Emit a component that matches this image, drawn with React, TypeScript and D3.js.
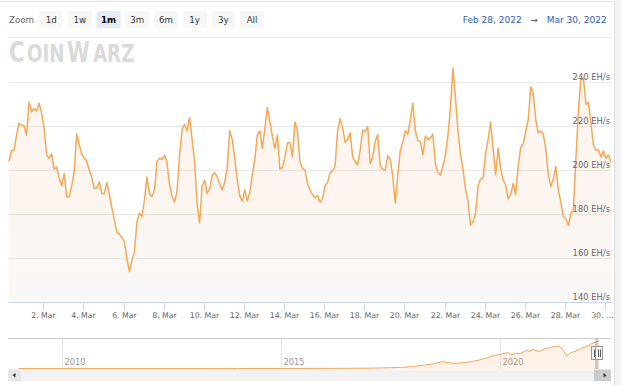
import React from 'react';
import * as d3 from 'd3';

const W = 621;
const H = 385;

// ---- data ----
const START = Date.UTC(2022, 1, 28, 7);
const STEP_HOURS = 3;
const hashrate: number[] = [
  204, 209, 209, 216, 221.5, 220.5, 220.3, 216, 231, 226.5, 228, 227, 230.5, 226, 219, 207, 205.5, 207.5, 200.5, 201.5,
  196.4, 193, 198.6, 188, 188, 193, 199.4, 216.5, 211.5, 207.5, 205.5, 204.1, 200, 196.7, 191.8, 191.8, 194.8, 189.5, 189.5, 194.4,
  189, 183, 177.5, 172, 171, 169.5, 167.5, 160, 154,
  159, 163, 176.5, 180.5, 179, 186.5, 197, 189.5, 188, 191, 204, 205.5, 205, 206.8, 203.5, 193.5, 188.2, 185.5, 190.5, 207,
  218.5, 221, 218, 224, 214, 204, 184.5, 176, 193, 195.5, 189.5, 191.5, 197.5, 199, 197, 194, 191, 194.5, 201, 218,
  214, 205.5, 195.6, 188.4, 186, 191.1, 186,
  190, 197.9, 205, 216.1, 218, 210, 219, 228.5, 222, 215.5, 210, 216, 200.5, 201.3, 206, 212.5, 212.5, 206, 222, 218,
  204, 200.8, 200.2, 194, 191.1, 189, 187.5, 188.6, 185.5, 187, 193, 194.5, 199, 199.7, 202, 218, 223.5, 219.5, 212.8, 214,
  217, 206.2, 204, 202.4, 209, 218.3, 217.5, 220,
  203, 206.2, 213, 216.1, 202, 200.6, 200, 206.7, 205, 197.1, 185, 198, 209, 212.8, 218, 216.5, 223, 230.5, 218, 213.5,
  213, 207, 215.6, 214, 214.5, 216.5, 203, 199, 197.9, 201.9, 207, 216, 228.5, 246.5, 233, 218, 207.5, 200.5, 191.5, 186,
  175, 176.5, 180.5, 193, 196, 196.5, 207.5, 214,
  222, 210, 198, 210, 201, 195.5, 193.5, 187, 189, 194, 189, 202, 210.3, 212, 217.6, 223, 238, 235, 223, 217,
  217.9, 216.5, 209.7, 198.5, 192.6, 196, 201.7, 191, 185.5, 179, 178, 174.8, 180.5, 182, 205, 226.7, 241.5, 241.8, 230, 230.9,
  221.5, 211.5, 209, 209.2, 206, 208.8, 205.5, 207, 204,
];
const yTicks = [140, 160, 180, 200, 220, 240];
const yUnit = 'EH/s';
const zoomLabel = 'Zoom';
const zoomButtons = ['1d', '1w', '1m', '3m', '6m', '1y', '3y', 'All'];
const selectedButton = '1m';
const rangeFrom = 'Feb 28, 2022';
const rangeTo = 'Mar 30, 2022';
const logoParts = ['C', 'OIN', 'W', 'ARZ'];

const navDates = [
  '2009-01-03', '2012-01-01', '2014-01-01', '2015-01-01', '2016-01-01', '2017-01-01', '2017-07-01', '2017-10-01',
  '2018-01-01', '2018-04-01', '2018-06-15', '2018-09-01', '2018-11-01', '2018-12-01', '2019-02-01', '2019-05-01',
  '2019-07-01', '2019-09-01', '2019-11-01', '2020-01-01', '2020-03-01', '2020-04-01', '2020-05-15', '2020-06-15',
  '2020-08-01', '2020-09-01', '2020-10-01', '2020-11-15', '2021-01-15', '2021-03-01', '2021-04-10', '2021-05-10',
  '2021-06-10', '2021-07-05', '2021-08-01', '2021-10-01', '2021-11-10', '2021-12-20', '2022-02-01', '2022-03-01',
  '2022-03-30',
];
const navValues = [
  0, 0, 0.01, 0.3, 0.8, 2.5, 6, 9,
  15, 26, 35, 53, 45, 41, 43, 53,
  65, 80, 98, 111, 124, 110, 119, 117,
  140, 135, 150, 132, 158, 165, 176, 171,
  140, 98, 119, 140, 160, 171, 195, 205,
  212,
];
const navYears = [2010, 2015, 2020];

// ---- layout ----
const plotLeft = 9;
const plotRight = 611;
const plotTop = 82.3;
const plotBottom = 302.3;
const navTop = 338.5;
const navBottom = 369;
const FONT = '"DejaVu Sans", "Lucida Grande", Verdana, sans-serif';
const LINE = '#f4a857';
const logoLayout = [
  { x: 9, size: 29, sx: 0.74 },
  { x: 27, size: 24, sx: 0.76 },
  { x: 67, size: 29, sx: 0.71 },
  { x: 93, size: 24, sx: 0.76 },
];

export default function App() {
  const parse = d3.utcParse('%Y-%m-%d');
  const end = START + (hashrate.length - 1) * STEP_HOURS * 3600e3;
  const x = d3.scaleUtc().domain([START, end]).range([plotLeft, plotRight]);
  const y = d3.scaleLinear().domain([140, 240]).range([plotBottom, plotTop]);
  const pts = hashrate.map((v, i) => ({ t: START + i * STEP_HOURS * 3600e3, v }));
  const line = d3.line<{ t: number; v: number }>().x((d) => x(d.t)).y((d) => y(d.v));
  const area = d3
    .area<{ t: number; v: number }>()
    .x((d) => x(d.t))
    .y0(plotBottom)
    .y1((d) => y(d.v));

  const dayTicks = d3
    .utcDay.range(new Date(START), new Date(end + 1))
    .filter((d) => d.getUTCDate() % 2 === 0);
  const fmt = d3.utcFormat('%-d. %b');

  const nx = d3
    .scaleUtc()
    .domain([Date.UTC(2010, 0, 1), Date.UTC(2020, 0, 1)])
    .range([62.3, 500.3]);
  const ny = d3.scaleLinear().domain([0, 235]).range([navBottom - 0.5, navTop]);
  const navPts = navDates.map((d, i) => ({ t: (parse(d) as Date).getTime(), v: navValues[i] }));
  const navLine = d3.line<{ t: number; v: number }>().x((d) => nx(d.t)).y((d) => ny(d.v));
  const navArea = d3
    .area<{ t: number; v: number }>()
    .x((d) => nx(d.t))
    .y0(navBottom)
    .y1((d) => ny(d.v));
  const selX0 = nx(START);
  const selX1 = nx(end);

  const btnX0 = 39;
  const btnPitch = 28.7;
  const btnW = 24.3;

  return (
    <svg
      width={W}
      height={H}
      style={{ position: 'absolute', left: 0, top: 0, background: '#fff' }}
      fontFamily={FONT}
    >
      <defs>
        <linearGradient id="fillGrad" x1="0" y1="0" x2="0" y2="1">
          <stop offset="0%" stopColor="#f7a35c" stopOpacity={0.09} />
          <stop offset="100%" stopColor="#e6e2de" stopOpacity={0.22} />
        </linearGradient>
      </defs>

      {/* frame */}
      <line x1={0} x2={614} y1={1.5} y2={1.5} stroke="#e4e4e4" />
      <rect x={614} y={0} width={7} height={H} fill="#f3f3f3" />
      <line x1={614.5} x2={614.5} y1={0} y2={H} stroke="#dedede" />

      {/* range selector */}
      <text x={9} y={22.5} fontSize={8.7} fill="#666">
        {zoomLabel}
      </text>
      {zoomButtons.map((b, i) => {
        const bx = btnX0 + i * btnPitch;
        const sel = b === selectedButton;
        return (
          <g key={b}>
            <rect x={bx} y={11} width={btnW} height={17.3} rx={2} fill={sel ? '#e6ebf5' : '#f7f7f7'} />
            <text
              x={bx + btnW / 2}
              y={22.8}
              textAnchor="middle"
              fontSize={8.7}
              fill={sel ? '#000' : '#333'}
              fontWeight={sel ? 'bold' : 'normal'}
            >
              {b}
            </text>
          </g>
        );
      })}
      <text x={521.7} y={22.5} textAnchor="end" fontSize={9} fill="#335cad">
        {rangeFrom}
      </text>
      <text x={534} y={22.5} textAnchor="middle" fontSize={9} fill="#444">
        →
      </text>
      <text x={606.7} y={22.5} textAnchor="end" fontSize={9} fill="#335cad">
        {rangeTo}
      </text>
      <line x1={9} x2={611} y1={37.5} y2={37.5} stroke="#e6e6e6" />

      {/* watermark logo */}
      <g fill="#dadada" fontWeight="bold" fontFamily='"DejaVu Sans", sans-serif'>
        {logoParts.map((p, i) => (
          <text
            key={p}
            transform={`translate(${logoLayout[i].x},62) scale(${logoLayout[i].sx},1)`}
            fontSize={logoLayout[i].size}
          >
            {p}
          </text>
        ))}
      </g>

      {/* grid */}
      {yTicks.slice(1).map((t) => (
        <line key={t} x1={plotLeft} x2={plotRight} y1={Math.round(y(t)) + 0.5} y2={Math.round(y(t)) + 0.5} stroke="#e8e8e8" />
      ))}

      {/* series */}
      <path d={area(pts) || ''} fill="url(#fillGrad)" />
      <path d={line(pts) || ''} fill="none" stroke={LINE} strokeWidth={1.5} strokeLinejoin="round" />

      {/* y labels */}
      {yTicks.map((t) => (
        <text key={t} x={610} y={y(t) - 2.5} textAnchor="end" fontSize={8.4} fill="#666">
          {`${t} ${yUnit}`}
        </text>
      ))}

      {/* x axis */}
      <line x1={plotLeft} x2={plotRight} y1={plotBottom + 0.2} y2={plotBottom + 0.2} stroke="#ccd6eb" />
      {dayTicks.map((d) => {
        const tx = Math.round(x(d)) + 0.5;
        const near = tx > plotRight - 12;
        return (
          <g key={d.getTime()}>
            <line x1={tx} x2={tx} y1={plotBottom} y2={plotBottom + 8} stroke="#ccd6eb" />
            <text x={near ? tx - 3 : tx} y={318} textAnchor="middle" fontSize={7.8} fill="#666">
              {near ? `${d.getUTCDate()}. …` : fmt(d)}
            </text>
          </g>
        );
      })}

      {/* navigator */}
      {navYears.map((yr) => {
        const gx = Math.round(nx(Date.UTC(yr, 0, 1))) + 0.5;
        return (
          <g key={yr}>
            <line x1={gx} x2={gx} y1={navTop} y2={navBottom} stroke="#e6e6e6" />
            <text x={gx + 2} y={365} fontSize={8.3} fill="#999">
              {yr}
            </text>
          </g>
        );
      })}
      <path d={navArea(navPts) || ''} fill="#f7a35c" fillOpacity={0.14} />
      <path d={navLine(navPts) || ''} fill="none" stroke={LINE} strokeWidth={1} />
      <line x1={8} x2={611} y1={navTop} y2={navTop} stroke="#cccccc" />
      <rect x={selX0} y={navTop} width={Math.max(selX1 - selX0, 3)} height={navBottom - navTop} fill="#666" fillOpacity={0.3} />
      {[selX0, selX1].map((hx, i) => (
        <g key={i}>
          <rect x={Math.round(hx - 3.5) + 0.5} y={346.5} width={7} height={13} fill="#f2f2f2" stroke="#999" />
          <line x1={Math.round(hx - 1) + 0.5} x2={Math.round(hx - 1) + 0.5} y1={349.5} y2={357} stroke="#333" strokeWidth={0.8} />
          <line x1={Math.round(hx + 1) + 0.5} x2={Math.round(hx + 1) + 0.5} y1={349.5} y2={357} stroke="#333" strokeWidth={0.8} />
        </g>
      ))}

      {/* scrollbar */}
      <rect x={8} y={369.5} width={603} height={11.5} fill="#f2f2f2" />
      <rect x={8} y={369.5} width={13} height={11.5} fill="#e6e6e6" />
      <path d="M 15.5 373 L 12.5 375.25 L 15.5 377.5 Z" fill="#333" />
      <rect x={Math.min(selX0, 594)} y={369.5} width={611 - Math.min(selX0, 594)} height={11.5} fill="#cccccc" />
      <path d="M 603.5 373 L 606.5 375.25 L 603.5 377.5 Z" fill="#333" />
    </svg>
  );
}
